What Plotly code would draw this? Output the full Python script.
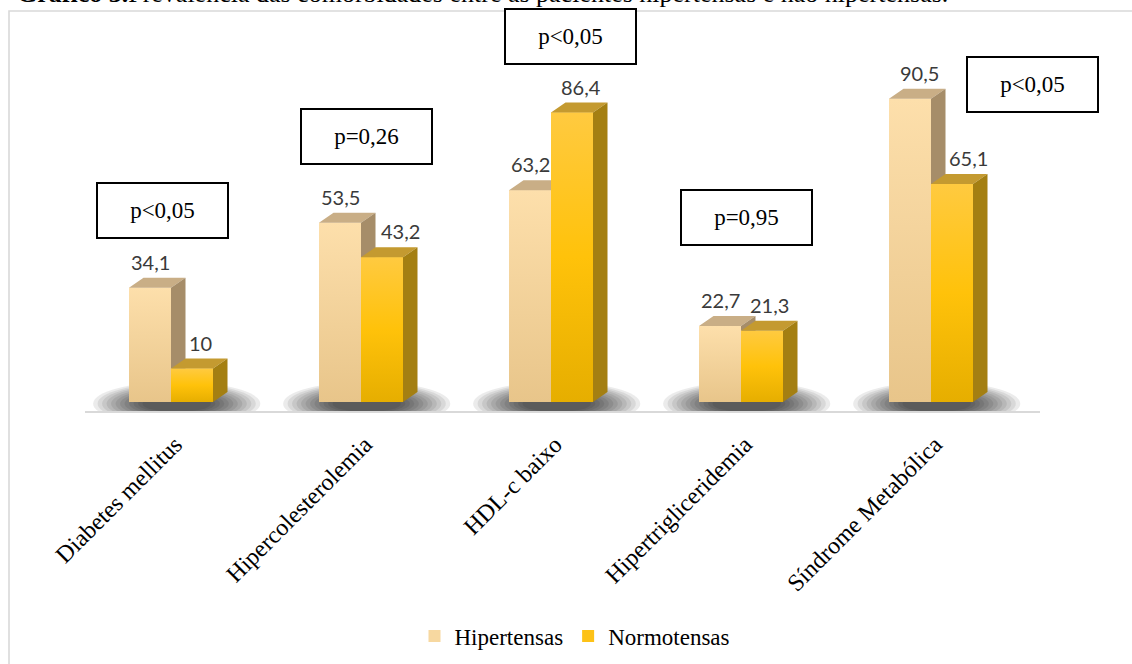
import plotly.graph_objects as go

# ---- data ----
categorias = ["Diabetes mellitus", "Hipercolesterolemia", "HDL-c baixo",
              "Hipertrigliceridemia", "Síndrome Metabólica"]
hipertensas = [34.1, 53.5, 63.2, 22.7, 90.5]
normotensas = [10, 43.2, 86.4, 21.3, 65.1]
valores_p = ["p<0,05", "p=0,26", "p<0,05", "p=0,95", "p<0,05"]
titulo = "<b>Gráfico 3.</b>Prevalência das comorbidades entre as pacientes hipertensas e não hipertensas."

# ---- page geometry (pixels) ----
W, H = 1132, 664
PLOT_L, PLOT_R, PLOT_T, PLOT_B = 85, 1040, 22, 411
BASE_PX = 402          # pixel row of value 0
FIRST_CAT_PX = 171     # pixel column of first category
PX_PER_CAT = 190.0
PX_PER_UNIT = 3.35

x_lo = -(FIRST_CAT_PX - PLOT_L) / PX_PER_CAT
x_hi = x_lo + (PLOT_R - PLOT_L) / PX_PER_CAT
y_lo = -(PLOT_B - BASE_PX) / PX_PER_UNIT
y_hi = (BASE_PX - PLOT_T) / PX_PER_UNIT


def px_x(px):
    return x_lo + (px - PLOT_L) / PX_PER_CAT


def px_y(py):
    return (BASE_PX - py) / PX_PER_UNIT


def paper_x(px):
    return (px - PLOT_L) / (PLOT_R - PLOT_L)


def paper_y(py):
    return (PLOT_B - py) / (PLOT_B - PLOT_T)


BAR_W = 42 / PX_PER_CAT     # width of one bar front
DX = 14.5 / PX_PER_CAT      # 3-D depth, horizontal
DY = 10 / PX_PER_UNIT       # 3-D depth, vertical

# colours
COR_H = "#F7D8A0"
COR_H_GRAD = [[0, "#E8C58A"], [1, "#FDDFAB"]]
COR_H_TOPO = "#C9AE86"
COR_H_LADO = "#A68D69"
COR_N = "#FDC217"
COR_N_GRAD = [[0, "#E6AE00"], [0.5, "#FFC20A"], [1, "#FFCA40"]]
COR_N_TOPO = "#C49A30"
COR_N_LADO = "#A47F12"


def face_frente(x0, v):
    return [(x0, 0), (x0 + BAR_W, 0), (x0 + BAR_W, v), (x0, v)]


def face_topo(x0, v):
    return [(x0, v), (x0 + BAR_W, v), (x0 + BAR_W + DX, v + DY), (x0 + DX, v + DY)]


def face_lado(x0, v):
    x1 = x0 + BAR_W
    return [(x1, 0), (x1 + DX, DY), (x1 + DX, v + DY), (x1, v)]


def recorta(poly, eixo, lim, manter_maior):
    """Sutherland-Hodgman clip of a polygon against one axis-aligned half-plane."""
    def dentro(p):
        return p[eixo] >= lim if manter_maior else p[eixo] <= lim

    def cruza(a, b):
        t = (lim - a[eixo]) / (b[eixo] - a[eixo])
        return (a[0] + t * (b[0] - a[0]), a[1] + t * (b[1] - a[1]))

    saida = []
    for i in range(len(poly)):
        cur, prev = poly[i], poly[i - 1]
        if dentro(cur):
            if not dentro(prev):
                saida.append(cruza(prev, cur))
            saida.append(cur)
        elif dentro(prev):
            saida.append(cruza(prev, cur))
    return saida


def visiveis(poly, x_frente, v_frente):
    """Part of a face of the left bar not hidden by the front of the right bar."""
    a = recorta(poly, 0, x_frente, False)
    b = recorta(recorta(poly, 0, x_frente, True), 1, v_frente, True)
    return [p for p in (a, b) if len(p) >= 3]


def junta(polys):
    xs, ys = [], []
    for poly in polys:
        for px, py in poly:
            xs.append(px)
            ys.append(py)
        xs.append(poly[0][0])
        ys.append(poly[0][1])
        xs.append(None)
        ys.append(None)
    return xs, ys


h_topos, h_lados, n_topos, n_lados = [], [], [], []
for i, (vh, vn) in enumerate(zip(hipertensas, normotensas)):
    xh = i - BAR_W
    xn = i
    h_topos += visiveis(face_topo(xh, vh), xn, vn)
    h_lados += visiveis(face_lado(xh, vh), xn, vn)
    n_topos.append(face_topo(xn, vn))
    n_lados.append(face_lado(xn, vn))

fig = go.Figure()

# bar fronts
fig.add_trace(go.Bar(
    x=list(range(len(categorias))), y=hipertensas, name="Hipertensas",
    offset=-BAR_W, width=BAR_W, marker=dict(color=COR_H, line=dict(width=0)),
    hovertext=categorias, hoverinfo="text+y"))
fig.add_trace(go.Bar(
    x=list(range(len(categorias))), y=normotensas, name="Normotensas",
    offset=0, width=BAR_W, marker=dict(color=COR_N, line=dict(width=0)),
    hovertext=categorias, hoverinfo="text+y"))


def poligono(polys, cor):
    xs, ys = junta(polys)
    fig.add_trace(go.Scatter(x=xs, y=ys, mode="lines", fill="toself",
                             fillcolor=cor, line=dict(width=0, color=cor),
                             showlegend=False, hoverinfo="skip"))


def frente_degrade(x0, v, escala):
    xs, ys = junta([face_frente(x0, v)])
    fig.add_trace(go.Scatter(x=xs, y=ys, mode="lines", fill="toself",
                             fillgradient=dict(type="vertical", colorscale=escala,
                                               start=0, stop=v),
                             line=dict(width=0), showlegend=False, hoverinfo="skip"))


# shaded fronts, then top and side faces, left series first
for i, vh in enumerate(hipertensas):
    frente_degrade(i - BAR_W, vh, COR_H_GRAD)
poligono(h_topos, COR_H_TOPO)
poligono(h_lados, COR_H_LADO)
for i, vn in enumerate(normotensas):
    frente_degrade(i, vn, COR_N_GRAD)
poligono(n_topos, COR_N_TOPO)
poligono(n_lados, COR_N_LADO)

shapes = []
# soft floor shadow under each pair of bars
N_CAMADAS = 12
for i in range(len(categorias)):
    for k in range(N_CAMADAS):
        f = k / (N_CAMADAS - 1)
        hw = 0.44 - f * 0.26
        hh = 6.5 - f * 4.0
        cx = i + 0.03
        shapes.append(dict(type="circle", xref="x", yref="y", layer="below",
                           x0=cx - hw, x1=cx + hw, y0=-0.5 - hh, y1=-0.5 + hh,
                           fillcolor="rgba(0,0,0,0.08)", line=dict(width=0)))

# outer frame
shapes.append(dict(type="rect", xref="paper", yref="paper",
                   x0=paper_x(9), x1=paper_x(1150), y0=paper_y(700), y1=paper_y(11),
                   line=dict(color="#D9D9D9", width=1.6), fillcolor="rgba(0,0,0,0)"))

annotations = []
# value labels
nudge_h = [0, 0, 0, 0, 9]
nudge_n = [8, 18, 9, 7, 16]
for i, (vh, vn) in enumerate(zip(hipertensas, normotensas)):
    for v, xc, nd in ((vh, i - BAR_W / 2, nudge_h[i]), (vn, i + BAR_W / 2, nudge_n[i])):
        annotations.append(dict(
            x=xc, y=v + DY, xref="x", yref="y", xanchor="center", yanchor="bottom",
            xshift=nd, yshift=2, showarrow=False,
            text=f"{v:g}".replace(".", ","),
            font=dict(family="Lato", size=20, color="#3A3A3A")))

# significance boxes
caixa_px = [(162, 210.5), (366, 136.5), (570, 36.5), (746, 217), (1032, 84)]
for txt, (cx, cy) in zip(valores_p, caixa_px):
    annotations.append(dict(
        x=px_x(cx), y=px_y(cy), xref="x", yref="y", xanchor="center", yanchor="middle",
        showarrow=False, text=txt, width=129, height=53, borderpad=0,
        bordercolor="black", borderwidth=2, bgcolor="white",
        font=dict(family="Liberation Serif", size=23, color="black")))

# caption above the frame
annotations.append(dict(
    x=paper_x(15), y=paper_y(10), xref="paper", yref="paper", xanchor="left",
    yanchor="bottom", showarrow=False, text=titulo,
    font=dict(family="Liberation Serif", size=26, color="black")))

fig.update_layout(
    width=W, height=H,
    margin=dict(l=PLOT_L, r=W - PLOT_R, t=PLOT_T, b=H - PLOT_B),
    paper_bgcolor="white", plot_bgcolor="rgba(0,0,0,0)",
    barmode="overlay",
    showlegend=True,
    legend=dict(orientation="h", xref="container", yref="container",
                x=575 / W, xanchor="center", y=1 - 636 / H, yanchor="middle",
                font=dict(family="Liberation Serif", size=23, color="black"),
                traceorder="normal"),
    xaxis=dict(range=[x_lo, x_hi], tickmode="array",
               tickvals=list(range(len(categorias))), ticktext=categorias,
               tickangle=-45, ticks="", showgrid=False, zeroline=False,
               showline=True, linecolor="#D9D9D9", linewidth=2,
               ticklabelstandoff=8, ticklabelshift=4,
               tickfont=dict(family="Liberation Serif", size=24, color="black")),
    yaxis=dict(range=[y_lo, y_hi], visible=False, showgrid=False, zeroline=False),
    shapes=shapes,
    annotations=annotations,
)

fig.write_html("out.html")
